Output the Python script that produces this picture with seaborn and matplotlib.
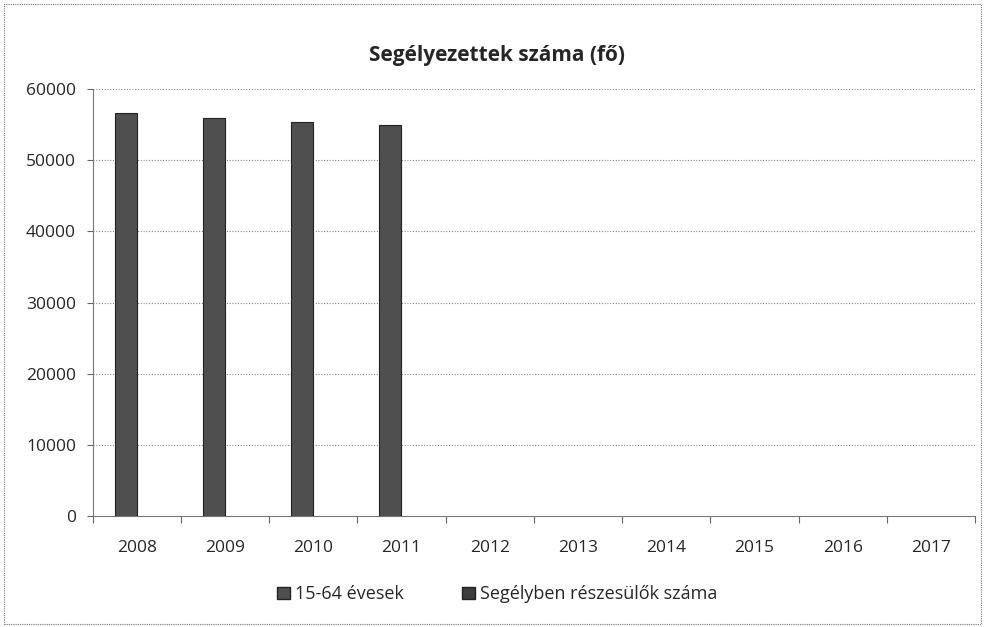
import matplotlib
matplotlib.use("Agg")
import matplotlib.pyplot as plt
import seaborn as sns
import pandas as pd
import numpy as np
from matplotlib.patches import Patch, Rectangle

years = ["2008", "2009", "2010", "2011", "2012", "2013", "2014", "2015", "2016", "2017"]
series_names = ["15-64 évesek", "Segélyben részesülők száma"]
evesek = [56600, 55900, 55300, 54900, np.nan, np.nan, np.nan, np.nan, np.nan, np.nan]
segelyben = [np.nan] * 10
yticks = [0, 10000, 20000, 30000, 40000, 50000, 60000]
title = "Segélyezettek száma (fő)"

df = pd.DataFrame({
    "year": years * 2,
    "series": [series_names[0]] * 10 + [series_names[1]] * 10,
    "value": evesek + segelyben,
})

sns.set_style("white")
plt.rcParams["font.family"] = ["Open Sans", "DejaVu Sans"]

fig = plt.figure(figsize=(9.85, 6.27), dpi=100)
ax = fig.add_axes([0.094, 0.177, 0.896, 0.681])

colors = ["#4f4f4f", "#3c3c3c"]
sns.barplot(data=df, x="year", y="value", hue="series", order=years,
            hue_order=series_names, palette=colors, width=0.5, gap=0,
            errorbar=None, ax=ax, legend=False, edgecolor="#222222", linewidth=0.8)

ax.set_ylim(0, 60000)
ax.set_xlim(-0.5, 9.5)
ax.set_yticks(yticks)
ax.set_yticklabels([str(v) for v in yticks], fontsize=12.5)
ax.set_xticks(range(len(years)))
ax.set_xticklabels(years, fontsize=12.5)
ax.tick_params(axis="x", length=0, pad=17)
ax.tick_params(axis="y", length=4, width=0.8, color="#666666", left=True, pad=8)
ax.set_xticks(np.arange(-0.5, 10.0, 1.0), minor=True)
ax.tick_params(axis="x", which="minor", length=5, width=0.8, color="#666666", bottom=True)
ax.set_xlabel("")
ax.set_ylabel("")

for v in yticks[1:]:
    ax.axhline(v, color="#888888", linestyle=(0, (1, 1.5)), linewidth=0.8, zorder=0)

for s in ["top", "right"]:
    ax.spines[s].set_visible(False)
ax.spines["left"].set_color("#777777")
ax.spines["bottom"].set_color("#777777")
ax.spines["left"].set_linewidth(0.8)
ax.spines["bottom"].set_linewidth(0.8)

fig.text(0.505, 0.912, title, ha="center", va="center", fontsize=15, fontweight="bold")

handles = [Patch(facecolor=colors[0], edgecolor="#222222"), Patch(facecolor=colors[1], edgecolor="#222222")]
fig.legend(handles, series_names, loc="center", bbox_to_anchor=(0.505, 0.052), ncol=2,
           frameon=False, fontsize=13, handlelength=0.7, handleheight=0.7,
           handletextpad=0.3, columnspacing=3.2)

fig.patches.append(Rectangle((0.004, 0.004), 0.992, 0.99, transform=fig.transFigure,
                             fill=False, edgecolor="#777777", linewidth=0.8,
                             linestyle=(0, (1, 1))))

fig.savefig("out.png", dpi=100)
